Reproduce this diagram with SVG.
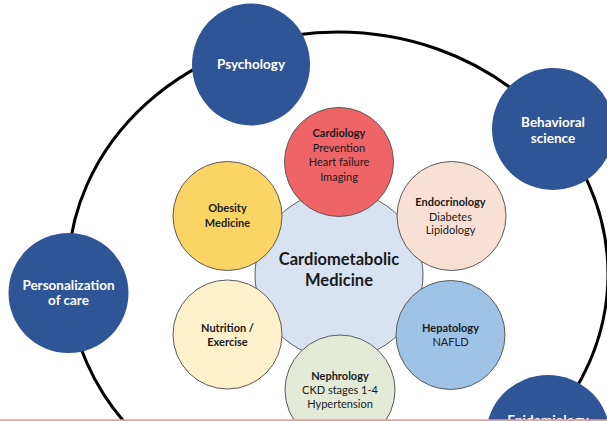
<svg xmlns="http://www.w3.org/2000/svg" width="607" height="421" viewBox="0 0 607 421">
<style>
text{font-family:Lato,"Open Sans","Liberation Sans",sans-serif;text-anchor:middle}
.outer{fill:#2F5597}
.ot{fill:#fff;font-weight:bold;font-size:13.5px}
.inner{stroke:#5a5a5a;stroke-width:1}
.it{fill:#1a1a1a;font-size:11px}
.b{font-weight:bold}
</style>
<rect width="607" height="421" fill="#fff"/>
<g id="connectors">
<ellipse cx="338" cy="274" rx="270" ry="242" fill="none" stroke="#000" stroke-width="3"/>
</g>
<g id="psychology">
<ellipse class="outer" cx="251" cy="64.5" rx="59" ry="61"/>
<text class="ot" x="251" y="69">Psychology</text>
</g>
<g id="behavioral-science">
<ellipse class="outer" cx="553" cy="129" rx="61" ry="61"/>
<text class="ot" x="553" y="127">Behavioral</text>
<text class="ot" x="553" y="143">science</text>
</g>
<g id="personalization">
<ellipse class="outer" cx="68.5" cy="293" rx="60" ry="60"/>
<text class="ot" x="68.5" y="290">Personalization</text>
<text class="ot" x="68.5" y="305">of care</text>
</g>
<g id="epidemiology">
<ellipse class="outer" cx="548" cy="436" rx="62" ry="61"/>
<text class="ot" x="548" y="425">Epidemiology</text>
</g>
<g id="cardiometabolic">
<circle class="inner" cx="339" cy="275" r="84" fill="#D9E2F0"/>
<text class="b" x="339" y="265" font-size="16.5" fill="#1a1a1a">Cardiometabolic</text>
<text class="b" x="339" y="286" font-size="16.5" fill="#1a1a1a">Medicine</text>
</g>
<g id="cardiology">
<circle class="inner" cx="339" cy="162" r="54.5" fill="#EF6467"/>
<text class="it b" x="339" y="137">Cardiology</text>
<text class="it" x="339" y="152">Prevention</text>
<text class="it" x="339" y="166">Heart failure</text>
<text class="it" x="339" y="181">Imaging</text>
</g>
<g id="obesity">
<circle class="inner" cx="227.5" cy="216" r="54.5" fill="#FAD565"/>
<text class="it b" x="227.5" y="212">Obesity</text>
<text class="it b" x="227.5" y="227">Medicine</text>
</g>
<g id="endocrinology">
<circle class="inner" cx="451.5" cy="216" r="54.5" fill="#F8E1D4"/>
<text class="it b" x="450.5" y="206">Endocrinology</text>
<text class="it" x="450.5" y="221">Diabetes</text>
<text class="it" x="450.5" y="234">Lipidology</text>
</g>
<g id="hepatology">
<circle class="inner" cx="450.5" cy="335" r="54.5" fill="#9FC3E5"/>
<text class="it b" x="450.5" y="332">Hepatology</text>
<text class="it" x="450.5" y="346">NAFLD</text>
</g>
<g id="nutrition">
<circle class="inner" cx="227.5" cy="334.5" r="54.5" fill="#FFF1CC"/>
<text class="it b" x="227.5" y="332">Nutrition /</text>
<text class="it b" x="227.5" y="346">Exercise</text>
</g>
<g id="nephrology">
<circle class="inner" cx="340" cy="390" r="55" fill="#E3EBD8"/>
<text class="it b" x="340" y="380">Nephrology</text>
<text class="it" x="340" y="394">CKD stages 1-4</text>
<text class="it" x="340" y="408">Hypertension</text>
</g>
<rect x="0" y="419.3" width="607" height="1.7" fill="#F39A9A"/>
</svg>
